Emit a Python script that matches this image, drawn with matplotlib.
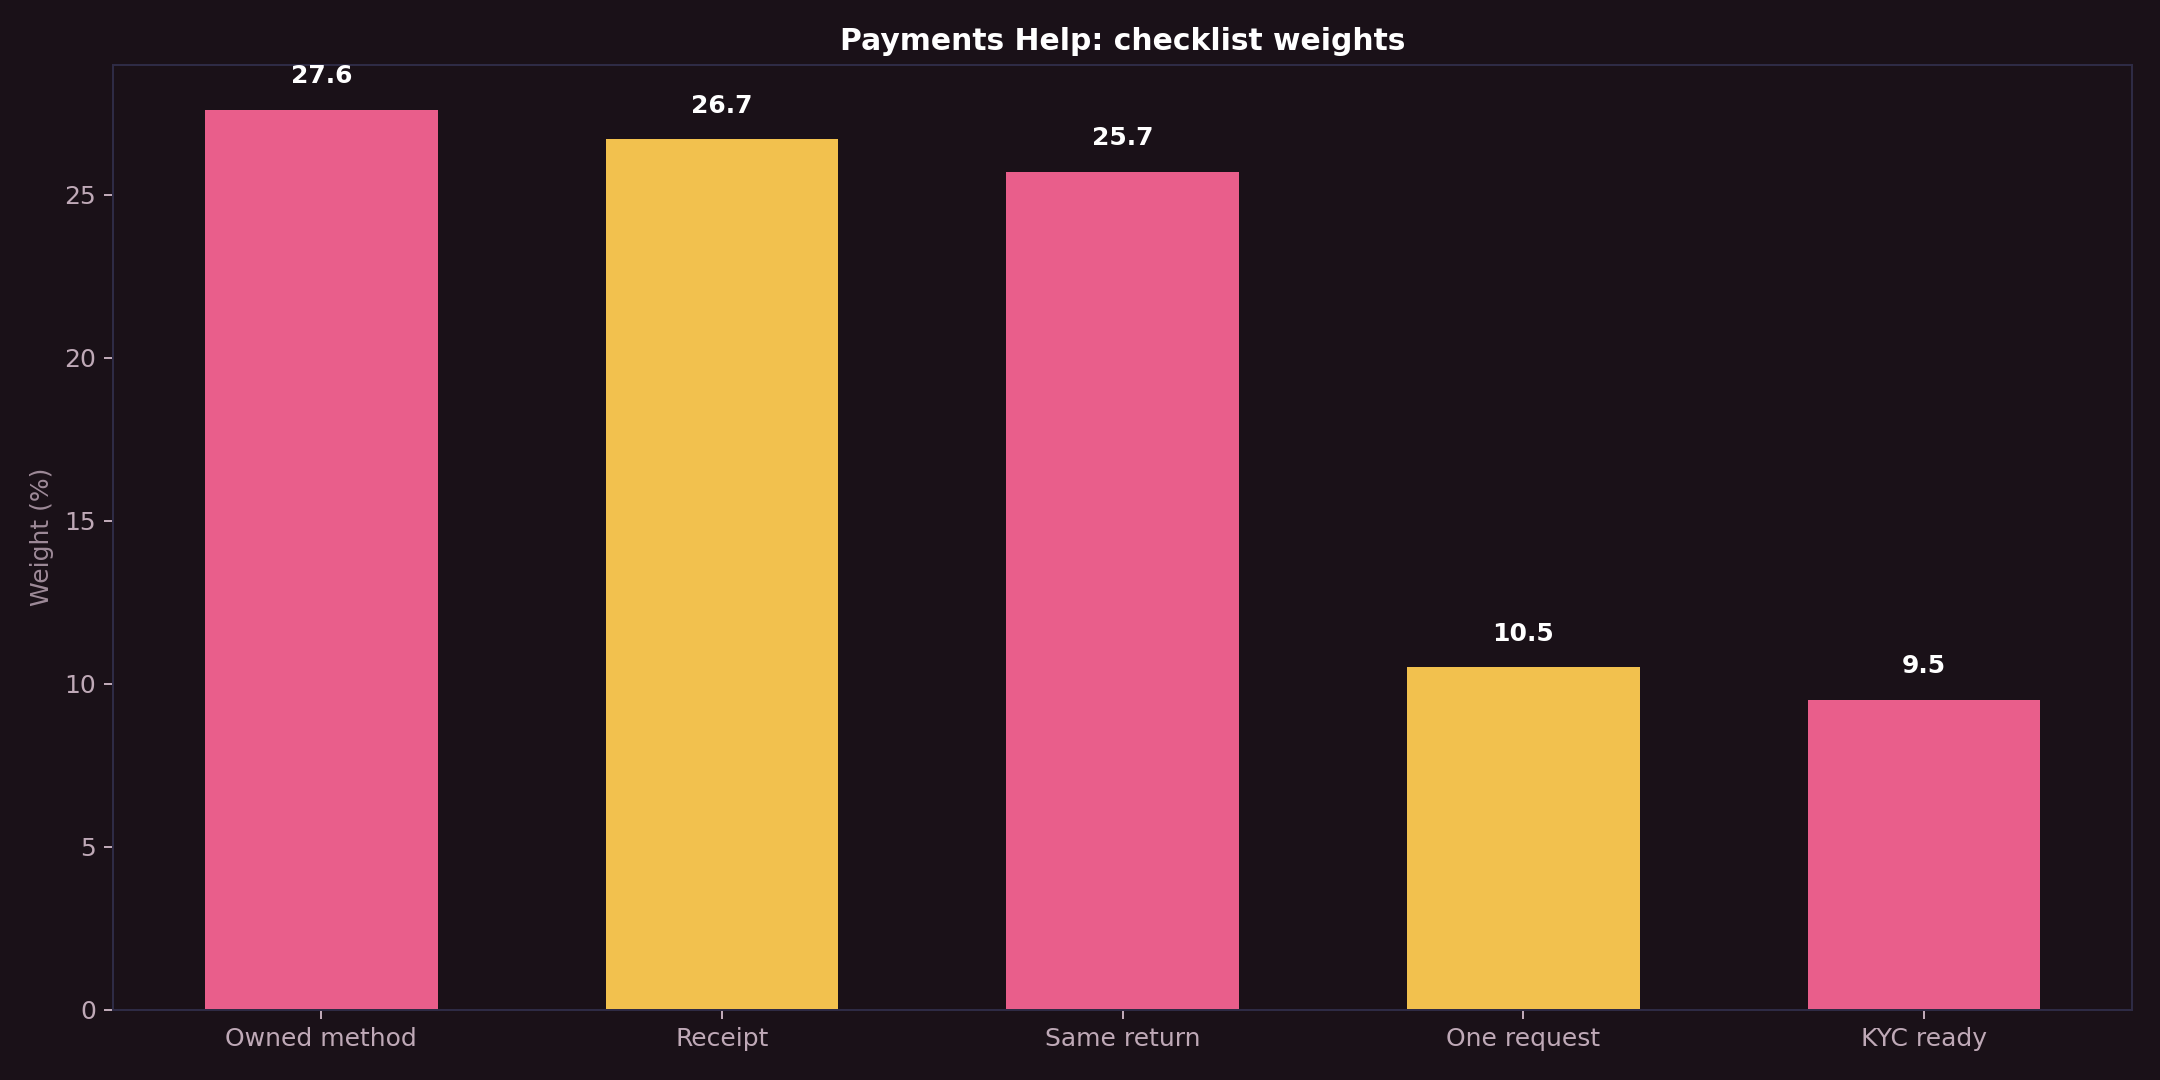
import matplotlib.pyplot as plt

# data
categories = ['Owned method', 'Receipt', 'Same return', 'One request', 'KYC ready']
weights = [27.6, 26.7, 25.7, 10.5, 9.5]
bar_colors = ['#E95E8B', '#F2C14E', '#E95E8B', '#F2C14E', '#E95E8B']

bg = '#1A1118'
tick_col = '#BFA9B7'
spine_col = '#2E2B45'

plt.rcParams['font.family'] = ['DejaVu Sans']

fig, ax = plt.subplots(figsize=(12, 6), dpi=180)
fig.patch.set_facecolor(bg)
ax.set_facecolor(bg)

x = range(len(categories))
ax.bar(x, weights, width=0.58, color=bar_colors)
ax.set_xticks(list(x))
ax.set_xticklabels(categories)
ax.set_ylim(0, max(weights) * 1.05)

for xi, v in zip(x, weights):
    ax.text(xi, v + max(weights) * 0.024, f'{v:.1f}', ha='center', va='bottom',
            color='white', fontsize=10, fontweight='bold')

ax.set_title('Payments Help: checklist weights', color='white', fontsize=11.9,
             fontweight='bold', pad=6)
ax.set_ylabel('Weight (%)', color='#9E8A98', fontsize=10)
ax.tick_params(colors=tick_col, labelsize=10)
for s in ax.spines.values():
    s.set_color(spine_col)

plt.subplots_adjust(left=0.0525, right=0.987, top=0.940, bottom=0.065)
plt.savefig('out.png', dpi=180, facecolor=bg)
